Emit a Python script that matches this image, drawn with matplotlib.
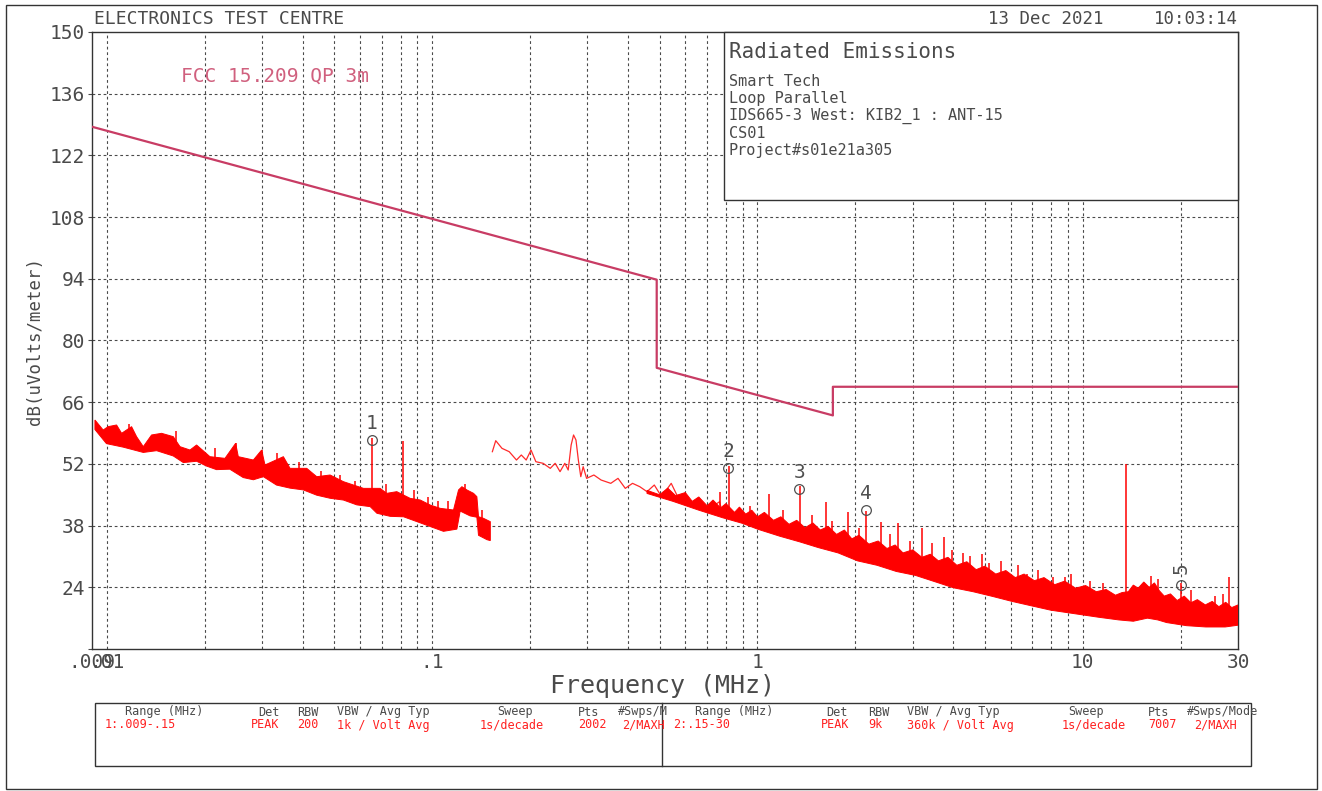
import numpy as np
import matplotlib
matplotlib.use("Agg")
import matplotlib.pyplot as plt
from matplotlib.patches import Rectangle

plt.rcParams['font.family'] = ['DejaVu Sans Mono', 'DejaVu Sans']

# ---------------- data ----------------
limit_f = [0.009, 0.49, 0.49, 1.705, 1.705, 30]
limit_db = [128.5, 93.8, 73.8, 63.0, 69.5, 69.5]

# trace 1 (0.009-0.15 MHz) band edges
t1_top_f = [0.00919, 0.00974, 0.01009, 0.01071, 0.01110, 0.01191, 0.01234, 0.01294, 0.01372, 0.01473,
            0.01600, 0.01678, 0.01801, 0.01887, 0.02074, 0.02307, 0.02488, 0.02535, 0.02820, 0.02991,
            0.03062, 0.03488, 0.03656, 0.04115, 0.04417, 0.04856, 0.05335, 0.05728, 0.06149, 0.06918,
            0.07251, 0.07784, 0.08557, 0.09185, 0.09858, 0.1058, 0.1163, 0.1205, 0.1234, 0.1279,
            0.1340, 0.1372, 0.1388, 0.1438, 0.1509]
t1_top_db = [61.96, 59.69, 60.45, 60.83, 58.94, 60.45, 58.18, 55.91, 58.56, 58.94,
             58.18, 55.91, 55.15, 56.29, 53.64, 53.26, 56.67, 53.64, 52.88, 55.15,
             51.75, 53.64, 50.99, 50.99, 49.10, 49.48, 47.97, 47.21, 46.45, 46.45,
             45.32, 45.70, 44.18, 43.81, 42.67, 41.92, 41.54, 46.08, 46.83, 46.08,
             45.32, 44.56, 40.02, 39.65, 38.89]
t1_bot_f = [0.00919, 0.00997, 0.01123, 0.01294, 0.01422, 0.01600, 0.01718, 0.01887, 0.02026, 0.02172,
            0.02387, 0.02625, 0.02820, 0.03027, 0.03322, 0.03656, 0.04016, 0.04417, 0.04856, 0.05335,
            0.05866, 0.06449, 0.06762, 0.07430, 0.08167, 0.08975, 0.09858, 0.1083, 0.1191, 0.1219,
            0.1308, 0.1372, 0.1388, 0.1474, 0.1509]
t1_bot_db = [59.8, 56.6, 55.8, 54.6, 55.0, 53.8, 52.3, 52.6, 51.5, 50.7,
             50.8, 48.9, 48.4, 49.1, 47.2, 46.5, 46.1, 44.9, 44.2, 43.8,
             42.7, 42.3, 40.8, 40.1, 40.0, 38.9, 37.8, 36.7, 37.2, 41.3,
             40.2, 39.9, 35.8, 34.8, 34.6]

# trace 2 (0.15-30 MHz) low-frequency sparse line
t2_line_f = [0.1531, 0.1568, 0.1639, 0.1725, 0.1816, 0.1879, 0.1945, 0.2013, 0.2083, 0.2193,
             0.2307, 0.2388, 0.2472, 0.2557, 0.2619, 0.2674, 0.2720, 0.2767, 0.2814, 0.2863,
             0.2912, 0.2983, 0.3141, 0.3306, 0.3540, 0.3726, 0.3923, 0.4129, 0.4346, 0.4575,
             0.4817, 0.5071, 0.5430, 0.5716, 0.6120, 0.6556, 0.7023, 0.7647, 0.7778, 0.8331,
             0.9074, 1.0055]
t2_line_db = [54.77, 57.27, 55.53, 54.77, 52.88, 54.02, 52.88, 55.15, 52.50, 52.13,
              50.99, 52.13, 50.24, 52.13, 50.61, 56.29, 58.56, 57.42, 52.88, 49.10,
              51.37, 48.72, 49.48, 48.34, 47.59, 48.72, 46.45, 47.59, 46.83, 45.70,
              47.21, 44.56, 47.59, 44.18, 43.05, 42.67, 41.54, 43.43, 41.16, 41.16,
              39.65, 38.51]

# trace 2 dense band: upper edge
t2_top_f = [0.4575, 0.50, 0.53, 0.56, 0.60, 0.63, 0.66, 0.70, 0.73, 0.77,
            0.80, 0.85, 0.88, 0.92, 0.96, 1.0, 1.05, 1.12, 1.18, 1.25,
            1.32, 1.40, 1.48, 1.56, 1.65, 1.75, 1.85, 1.95, 2.05, 2.2,
            2.35, 2.5, 2.65, 2.8, 3.0, 3.2, 3.4, 3.6, 3.85, 4.1,
            4.4, 4.7, 5.0, 5.4, 5.8, 6.2, 6.6, 7.1, 7.6, 8.2,
            8.8, 9.5, 10.2, 11.0, 11.8, 12.6, 13.2, 13.8, 14.3, 14.8,
            15.4, 16.0, 16.6, 17.2, 17.8, 18.6, 19.5, 20.5, 21.5, 22.5,
            23.8, 25.0, 26.2, 27.5, 28.7, 30.0]
t2_top_db = [46.0, 45.0, 46.5, 44.8, 45.5, 43.5, 44.5, 42.5, 43.8, 42.0,
             43.0, 41.0, 42.2, 40.6, 41.5, 40.0, 41.0, 39.2, 40.0, 38.3,
             39.2, 37.5, 38.6, 37.0, 37.8, 36.0, 37.0, 35.0, 35.8, 33.8,
             34.5, 32.8, 33.6, 31.8, 32.5, 30.8, 31.5, 30.0, 30.8, 29.0,
             29.8, 28.0, 28.8, 27.0, 27.8, 26.2, 27.0, 25.5, 26.2, 24.6,
             25.4, 23.8, 24.4, 23.0, 23.5, 22.2, 22.8, 23.0, 24.5, 23.8,
             25.2, 24.0, 25.0, 23.2, 22.0, 22.5, 21.0, 22.0, 20.5, 21.2,
             20.0, 20.8, 19.6, 20.6, 19.4, 20.0]
# trace 2 dense band: lower edge
t2_bot_f = [0.4575, 0.55, 0.66, 0.78, 0.9, 1.0, 1.17, 1.35, 1.54, 1.77,
            2.03, 2.33, 2.67, 3.06, 3.5, 4.0, 4.6, 5.3, 6.06, 6.95,
            7.98, 9.46, 11.2, 12.9, 14.3, 15.8, 17.0, 18.1, 20.8, 23.9,
            27.4, 30.0]
t2_bot_db = [45.3, 43.5, 41.5, 39.8, 38.5, 37.2, 35.6, 34.3, 33.0, 31.8,
             30.0, 29.0, 27.6, 26.7, 25.3, 23.9, 23.0, 21.9, 20.8, 19.8,
             18.8, 18.0, 17.2, 16.6, 16.3, 17.0, 16.6, 16.0, 15.3, 15.0,
             15.0, 15.4]

# narrow emission spikes (frequency, top, foot)
spike_f = [0.0117, 0.0163, 0.0215, 0.02488, 0.0299, 0.0333, 0.039, 0.0455, 0.052, 0.058,
           0.0652, 0.072, 0.0813, 0.088, 0.097, 0.104, 0.112, 0.126, 0.142,
           0.7647, 0.815, 0.95, 1.088, 1.2, 1.35, 1.47, 1.623, 1.7, 1.894,
           2.05, 2.16, 2.39, 2.55, 2.695, 2.95, 3.198, 3.45, 3.756, 3.95,
           4.277, 4.5, 4.9, 5.145, 5.6, 6.3, 6.72, 7.3, 8.11, 8.84,
           9.2, 10.5, 11.5, 13.56, 15.39, 16.2, 17.0, 20.1, 21.5, 25.5,
           27.0, 28.2]
spike_peak = [61.0, 59.5, 55.5, 56.67, 55.15, 54.5, 52.5, 50.5, 49.5, 48.2,
              57.8, 47.5, 57.27, 46.0, 44.5, 43.5, 43.5, 47.5, 41.5,
              45.70, 51.5, 42.5, 45.17, 41.5, 47.0, 40.5, 43.43, 39.0, 41.16,
              37.5, 41.3, 38.89, 36.0, 38.66, 34.5, 37.38, 34.0, 35.33, 32.5,
              31.70, 31.0, 31.5, 29.43, 30.0, 29.0, 27.01, 28.0, 26.41, 26.41,
              27.0, 25.5, 25.0, 52.0, 24.89, 26.5, 25.8, 25.0, 23.5, 22.0,
              22.5, 26.4]
spike_base = [58.0, 56.5, 52.5, 53.5, 51.5, 51.0, 49.5, 47.5, 46.0, 45.0,
              43.0, 44.0, 41.0, 42.0, 41.0, 39.5, 39.0, 43.0, 37.0,
              42.0, 40.5, 39.0, 38.0, 37.0, 35.5, 35.0, 34.5, 34.0, 33.0,
              32.0, 31.0, 30.5, 30.0, 29.0, 28.5, 28.0, 27.5, 27.0, 26.0,
              25.0, 25.0, 24.0, 24.0, 23.5, 22.5, 22.0, 21.5, 21.0, 20.0,
              20.0, 19.5, 19.0, 19.0, 20.0, 20.0, 19.5, 17.5, 17.0, 16.5,
              16.5, 16.5]

marker_labels = ['1', '2', '3', '4', '5']
marker_f = [0.0652, 0.812, 1.346, 2.16, 20.1]
marker_db = [57.4, 51.1, 46.3, 41.5, 24.5]

ytick_vals = [10, 24, 38, 52, 66, 80, 94, 108, 122, 136, 150]
ytick_labels = ['', '24', '38', '52', '66', '80', '94', '108', '122', '136', '150']
xtick_vals = [0.009, 0.01, 0.1, 1, 10, 30]
xtick_labels = ['.009', '.01', '.1', '1', '10', '30']
grid_f = [0.01, 0.02, 0.03, 0.04, 0.05, 0.06, 0.07, 0.08, 0.09,
          0.1, 0.2, 0.3, 0.4, 0.5, 0.6, 0.7, 0.8, 0.9,
          1, 2, 3, 4, 5, 6, 7, 8, 9, 10, 20]

info_lines = ['Smart Tech', 'Loop Parallel', 'IDS665-3 West: KIB2_1 : ANT-15', 'CS01',
              'Project#s01e21a305']

tbl_head_l = ['Range (MHz)', 'Det', 'RBW', 'VBW / Avg Typ', 'Sweep', 'Pts', '#Swps/M']
tbl_val_l = ['1:.009-.15', 'PEAK', '200', '1k / Volt Avg', '1s/decade', '2002', '2/MAXH']
tbl_head_r = ['Range (MHz)', 'Det', 'RBW', 'VBW / Avg Typ', 'Sweep', 'Pts', '#Swps/Mode']
tbl_val_r = ['2:.15-30', 'PEAK', '9k', '360k / Volt Avg', '1s/decade', '7007', '2/MAXH']

# ---------------- figure ----------------
W, H = 1322, 791
fig = plt.figure(figsize=(W / 100, H / 100), dpi=100)
fig.patch.set_facecolor('white')
ax = fig.add_axes([92 / W, 1 - 649 / H, (1238 - 92) / W, 617 / H])
ax.set_xscale('log')
ax.set_xlim(0.009, 30)
ax.set_ylim(10, 150)

gcol = '#4a4a4a'
tcol = '#4a4a4a'
for f in grid_f:
    ax.axvline(f, color=gcol, lw=0.8, ls=(0, (2.5, 2.5)), zorder=1)
for v in ytick_vals[1:-1]:
    ax.axhline(v, color=gcol, lw=0.8, ls=(0, (2.5, 2.5)), zorder=1)

ax.set_yticks(ytick_vals)
ax.set_yticklabels(ytick_labels)
ax.set_xticks(xtick_vals)
ax.set_xticklabels(xtick_labels)
ax.xaxis.set_minor_locator(matplotlib.ticker.NullLocator())
ax.tick_params(axis='y', length=3, width=0.8, color=tcol, labelsize=14, labelcolor=tcol, pad=2)
ax.tick_params(axis='x', length=0, labelsize=14, labelcolor=tcol, pad=3)
for s in ax.spines.values():
    s.set_color('#333333')
    s.set_linewidth(1.0)

red = '#ff0000'
# limit line
ax.plot(limit_f, limit_db, color='#c83c64', lw=1.6, zorder=3)

# trace 1 band
ax.fill(np.r_[t1_top_f, t1_bot_f[::-1]], np.r_[t1_top_db, t1_bot_db[::-1]],
        facecolor=red, edgecolor=red, lw=0.7, zorder=4)
# trace 2 sparse line and band
ax.plot(t2_line_f, t2_line_db, color='#ff2a2a', lw=0.9, zorder=4)
ax.fill(np.r_[t2_top_f, t2_bot_f[::-1]], np.r_[t2_top_db, t2_bot_db[::-1]],
        facecolor=red, edgecolor=red, lw=0.7, zorder=4)
# spikes
ax.vlines(spike_f, spike_base, spike_peak, color=red, lw=1.1, zorder=4)

# markers
ax.plot(marker_f, marker_db, 'o', ms=7, mfc='none', mec='#505050', mew=0.9, zorder=6)
for lab, f, v in zip(marker_labels, marker_f, marker_db):
    rot = 90 if lab == '5' else 0
    ax.annotate(lab, (f, v), xytext=(0, 12), textcoords='offset points', ha='center',
                va='center', fontsize=14, color='#505050', rotation=rot, zorder=6)

# ---------------- overlay for annotations ----------------
ov = fig.add_axes([0, 0, 1, 1])
ov.set_xlim(0, W)
ov.set_ylim(H, 0)
ov.axis('off')
ov.patch.set_alpha(0)

# outer frame
ov.add_patch(Rectangle((6, 5), 1311, 784, fill=False, edgecolor='#333333', lw=1.0))

ov.text(94, 19, 'ELECTRONICS TEST CENTRE', fontsize=13, color=tcol, ha='left', va='center')
ov.text(988, 19, '13 Dec 2021', fontsize=12.5, color=tcol, ha='left', va='center')
ov.text(1154, 19, '10:03:14', fontsize=12.5, color=tcol, ha='left', va='center')

ov.text(181, 76, 'FCC 15.209 QP 3m', fontsize=14, color='#d0607e', ha='left', va='center')

# info box
ov.add_patch(Rectangle((724, 32), 514, 168, facecolor='white', edgecolor='#333333', lw=1.0))
ov.text(729, 52, 'Radiated Emissions', fontsize=15, color=tcol, ha='left', va='center')
for i, line in enumerate(info_lines):
    ov.text(729, 82 + i * 17, line, fontsize=11, color=tcol, ha='left', va='center')

# axis labels
ov.text(35, 341, 'dB(uVolts/meter)', fontsize=12.5, color=tcol, rotation=90,
        ha='center', va='center')
ov.text(662, 686, 'Frequency (MHz)', fontsize=18, color=tcol, ha='center', va='center')

# settings table
ov.add_patch(Rectangle((95, 703), 1156, 63, fill=False, edgecolor='#333333', lw=1.0))
ov.plot([662, 662], [703, 766], color='#333333', lw=1.0)
head_x_l = [125, 258, 297, 337, 497, 578, 618]
val_x_l = [105, 251, 297, 337, 480, 578, 622]
head_x_r = [695, 826, 868, 907, 1068, 1148, 1187]
val_x_r = [673, 821, 868, 907, 1062, 1148, 1194]
for x, t in zip(head_x_l, tbl_head_l):
    ov.text(x, 712, t, fontsize=8.5, color=tcol, ha='left', va='center')
for x, t in zip(val_x_l, tbl_val_l):
    ov.text(x, 725, t, fontsize=8.5, color='#ff2020', ha='left', va='center')
for x, t in zip(head_x_r, tbl_head_r):
    ov.text(x, 712, t, fontsize=8.5, color=tcol, ha='left', va='center')
for x, t in zip(val_x_r, tbl_val_r):
    ov.text(x, 725, t, fontsize=8.5, color='#ff2020', ha='left', va='center')

fig.savefig('out.png', dpi=100, facecolor='white')
